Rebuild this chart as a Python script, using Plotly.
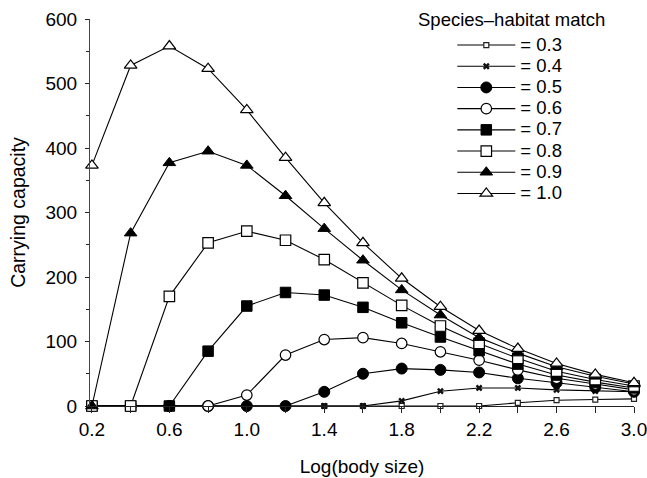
import plotly.graph_objects as go

log_body_size = [0.2, 0.4, 0.6, 0.8, 1.0, 1.2, 1.4, 1.6, 1.8, 2.0, 2.2, 2.4, 2.6, 2.8, 3.0]

match_labels = ["= 0.3", "= 0.4", "= 0.5", "= 0.6", "= 0.7", "= 0.8", "= 0.9", "= 1.0"]
legend_title = "Species\u2013habitat match"

k_03 = [0, 0, 0, 0, 0, 0, 0, 0, 0, 0, 0, 5, 9, 10, 11]
k_04 = [0, 0, 0, 0, 0, 0, 0, 0, 8, 23, 28, 28, 25, 23, 22]
k_05 = [0, 0, 0, 0, 0, 0, 22, 50, 58, 56, 52, 43, 36, 29, 22]
k_06 = [0, 0, 0, 0, 17, 79, 103, 106, 97, 84, 71, 56, 43, 34, 25]
k_07 = [0, 0, 0, 85, 155, 176, 172, 153, 129, 107, 86, 65, 48, 37, 28]
k_08 = [0, 0, 170, 253, 271, 257, 227, 191, 156, 124, 97, 74, 54, 41, 31]
k_09 = [0, 268, 377, 395, 373, 326, 275, 226, 180, 141, 106, 82, 61, 46, 34]
k_10 = [373, 528, 558, 523, 459, 385, 315, 253, 198, 154, 117, 89, 66, 49, 36]

series = [k_03, k_04, k_05, k_06, k_07, k_08, k_09, k_10]

styles = [
    dict(symbol="square", size=5, color="white", line=dict(color="#222", width=1.2)),
    dict(symbol="x", size=6, color="#111", line=dict(color="#111", width=0)),
    dict(symbol="circle", size=11, color="black", line=dict(color="black", width=1)),
    dict(symbol="circle", size=10.5, color="white", line=dict(color="black", width=1.2)),
    dict(symbol="square", size=10.5, color="black", line=dict(color="black", width=1)),
    dict(symbol="square", size=10.5, color="white", line=dict(color="black", width=1.2)),
    dict(symbol="triangle-up", size=11, color="black", line=dict(color="black", width=1)),
    dict(symbol="triangle-up", size=11, color="white", line=dict(color="black", width=1.2)),
]

FONT = "Liberation Sans, Arial, Helvetica, sans-serif"

fig = go.Figure()
for name, vals, st in zip(match_labels, series, styles):
    fig.add_trace(go.Scatter(
        x=log_body_size, y=vals,
        name=f'<span style="font-size:18.5px">{name}</span>',
        mode="lines+markers",
        line=dict(color="black", width=1.1),
        marker=st, cliponaxis=False,
    ))

x_tickvals = log_body_size
x_ticktext = [f"{v:.1f}" if i % 2 == 0 else "" for i, v in enumerate(log_body_size)]

fig.add_annotation(
    text=legend_title, xref="paper", yref="paper",
    x=0.774, y=1.0, xanchor="center", yanchor="middle",
    showarrow=False, font=dict(size=18.5, family=FONT, color="black"),
)

fig.update_layout(
    width=647, height=478,
    margin=dict(l=90, r=13, t=19, b=72, autoexpand=False),
    paper_bgcolor="white", plot_bgcolor="white",
    font=dict(family=FONT, size=19, color="black"),
    showlegend=True,
    legend=dict(
        x=0.666, y=0.973, xanchor="left", yanchor="top",
        bgcolor="rgba(0,0,0,0)", font=dict(size=14),
        itemwidth=58, tracegroupgap=0,
    ),
    xaxis=dict(
        range=[0.19, 3.0], tickvals=x_tickvals, ticktext=x_ticktext,
        ticks="outside", ticklen=6, tickcolor="#222", tickwidth=1,
        ticklabeloverflow="allow", automargin=False,
        showline=True, linecolor="#222", linewidth=1, showgrid=False, zeroline=False,
        title=dict(text="Log(body size)", font=dict(size=19), standoff=20),
        tickfont=dict(size=19),
    ),
    yaxis=dict(
        range=[0, 600], tickvals=[0, 100, 200, 300, 400, 500, 600],
        ticks="outside", ticklen=4, tickcolor="#222", tickwidth=1,
        ticklabelstandoff=4, automargin=False,
        minor=dict(tickvals=[50, 150, 250, 350, 450, 550], ticks="outside", ticklen=3, tickcolor="#222"),
        showline=True, linecolor="#444", linewidth=1, showgrid=False, zeroline=False,
        title=dict(text="Carrying capacity", font=dict(size=19.5), standoff=14),
        tickfont=dict(size=19),
    ),
)

fig.write_html(
    "out.html",
    config={"displayModeBar": False},
    post_script="document.body.style.margin='0px';",
)
